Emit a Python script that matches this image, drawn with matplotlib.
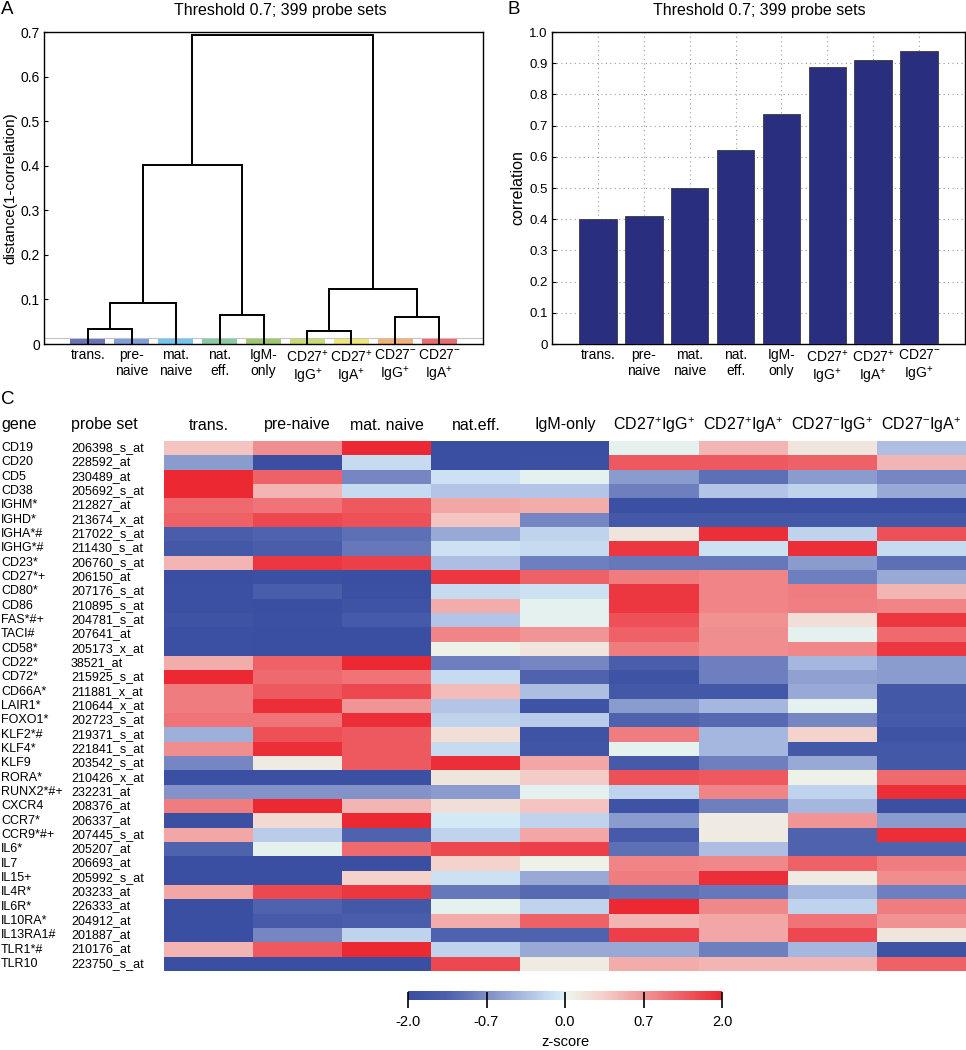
import numpy as np
import matplotlib
matplotlib.use('Agg')
import matplotlib.pyplot as plt
from matplotlib.colors import LinearSegmentedColormap, FuncNorm
from matplotlib.patches import Rectangle
from matplotlib.transforms import blended_transform_factory

plt.rcParams['font.family'] = ['Liberation Sans', 'DejaVu Sans']
plt.rcParams['mathtext.fontset'] = 'custom'
plt.rcParams['mathtext.rm'] = 'Liberation Sans'
plt.rcParams['mathtext.it'] = 'Liberation Sans:italic'
plt.rcParams['mathtext.bf'] = 'Liberation Sans:bold'

# ---------------- data ----------------
title_text = "Threshold 0.7; 399 probe sets"
dendro_labels = ["trans.", "pre-\nnaive", "mat.\nnaive", "nat.\neff.", "IgM-\nonly",
                 "CD27$^{+}$\nIgG$^{+}$", "CD27$^{+}$\nIgA$^{+}$",
                 "CD27$^{-}$\nIgG$^{+}$", "CD27$^{-}$\nIgA$^{+}$"]
leaf_colors = ["#6b72b8", "#7f9fd6", "#6fc6ef", "#86cba4", "#9dc96a",
               "#c8dc74", "#efe679", "#f4b173", "#ee6b6d"]
# merges: (node_a, node_b, height); leaves 0..8, new nodes numbered from 9
merges = [(0, 1, 0.034), (9, 2, 0.093), (3, 4, 0.065), (10, 11, 0.402),
          (5, 6, 0.030), (7, 8, 0.061), (13, 14, 0.123), (12, 15, 0.694)]
dendro_yticks = [0, 0.1, 0.2, 0.3, 0.4, 0.5, 0.6, 0.7]
dendro_yticklabels = ["0", "0.1", "0.2", "0.3", "0.4", "0.5", "0.6", "0.7"]

bar_labels = dendro_labels[:8]
correlations = [0.401, 0.410, 0.499, 0.623, 0.736, 0.888, 0.911, 0.938]
bar_yticks = [0, 0.1, 0.2, 0.3, 0.4, 0.5, 0.6, 0.7, 0.8, 0.9, 1.0]
bar_yticklabels = ["0", "0.1", "0.2", "0.3", "0.4", "0.5", "0.6", "0.7", "0.8", "0.9", "1.0"]

heat_columns = ["trans.", "pre-naive", "mat. naive", "nat.eff.", "IgM-only",
                "CD27$^{+}$IgG$^{+}$", "CD27$^{+}$IgA$^{+}$",
                "CD27$^{-}$IgG$^{+}$", "CD27$^{-}$IgA$^{+}$"]
genes = ["CD19", "CD20", "CD5", "CD38", "IGHM*", "IGHD*", "IGHA*#", "IGHG*#", "CD23*",
         "CD27*+", "CD80*", "CD86", "FAS*#+", "TACI#", "CD58*", "CD22*", "CD72*", "CD66A*",
         "LAIR1*", "FOXO1*", "KLF2*#", "KLF4*", "KLF9", "RORA*", "RUNX2*#+", "CXCR4",
         "CCR7*", "CCR9*#+", "IL6*", "IL7", "IL15+", "IL4R*", "IL6R*", "IL10RA*",
         "IL13RA1#", "TLR1*#", "TLR10"]
probe_sets = ["206398_s_at", "228592_at", "230489_at", "205692_s_at", "212827_at",
              "213674_x_at", "217022_s_at", "211430_s_at", "206760_s_at", "206150_at",
              "207176_s_at", "210895_s_at", "204781_s_at", "207641_at", "205173_x_at",
              "38521_at", "215925_s_at", "211881_x_at", "210644_x_at", "202723_s_at",
              "219371_s_at", "221841_s_at", "203542_s_at", "210426_x_at", "232231_at",
              "208376_at", "206337_at", "207445_s_at", "205207_at", "206693_at",
              "205992_s_at", "203233_at", "226333_at", "204912_at", "201887_at",
              "210176_at", "223750_s_at"]
zscores = [
    [0.4, 0.8, 2.0, -2.0, -2.0, 0.0, 0.5, 0.15, -0.35],
    [-0.6, -2.0, -0.15, -2.0, -1.9, 1.4, 1.4, 1.3, 0.5],
    [2.0, 1.3, -0.8, -0.1, 0.0, -0.6, -1.1, -0.6, -0.8],
    [2.0, 0.5, -0.15, -0.3, -0.3, -0.9, -0.3, -0.2, -0.5],
    [1.2, 1.1, 1.4, 0.6, 0.55, -1.9, -1.9, -1.9, -1.9],
    [1.3, 1.6, 1.5, 0.4, -0.8, -1.6, -1.6, -1.6, -1.6],
    [-1.4, -1.3, -1.1, -0.5, -0.2, 0.15, 1.9, -0.2, 1.5],
    [-1.6, -1.4, -1.0, -0.1, -0.15, 1.8, -0.1, 1.9, -0.15],
    [0.5, 1.8, 1.7, -0.35, -0.9, -1.0, -1.0, -0.6, -1.1],
    [-2.0, -1.9, -2.0, 1.8, 1.3, 1.0, 0.9, -0.9, -0.5],
    [-1.9, -1.4, -1.9, -0.15, -0.1, 1.8, 0.9, 1.0, 0.5],
    [-1.9, -2.0, -1.8, 0.55, 0.0, 1.8, 0.9, 0.95, 0.9],
    [-1.8, -1.9, -1.5, -0.3, 0.0, 1.5, 0.75, 0.2, 1.8],
    [-1.9, -2.0, -2.0, 0.9, 0.7, 1.3, 0.8, 0.0, 1.2],
    [-1.9, -2.0, -1.95, 0.05, 0.15, 1.0, 0.8, 0.85, 1.8],
    [0.55, 1.3, 2.0, -0.9, -0.8, -1.4, -0.9, -0.4, -0.6],
    [2.0, 1.2, 1.1, -0.15, -1.3, -1.8, -0.9, -0.55, -0.6],
    [1.0, 1.4, 1.6, 0.45, -0.35, -1.6, -1.6, -0.5, -1.6],
    [1.0, 1.9, 0.7, -0.3, -1.8, -0.6, -0.4, 0.0, -1.6],
    [1.1, 1.1, 1.9, -0.2, -0.25, -1.3, -1.2, -0.8, -1.5],
    [-0.45, 1.5, 1.4, 0.2, -1.8, 1.0, -0.4, 0.3, -1.8],
    [0.8, 1.9, 1.4, -0.15, -1.7, 0.0, -0.4, -1.6, -1.6],
    [-0.8, 0.1, 1.4, 1.9, 0.6, -1.5, -0.9, -0.5, -1.6],
    [-1.9, -1.9, -1.9, 0.15, 0.35, 1.5, 1.4, 0.05, 1.2],
    [-0.65, -0.65, -0.65, -0.6, 0.0, -0.2, 0.9, -0.2, 1.9],
    [1.0, 2.0, 0.5, 0.2, 0.4, -1.8, -0.9, -0.4, -1.9],
    [-1.9, 0.25, 2.0, -0.05, -0.2, -0.6, 0.1, 0.7, -0.6],
    [0.6, -0.25, -1.3, -0.2, 0.6, -1.5, 0.1, -1.3, 1.9],
    [-1.3, 0.0, 1.2, 1.6, 1.7, -1.1, -0.35, -1.3, -1.3],
    [-2.0, -2.0, -1.95, 0.3, 0.05, 0.9, 0.85, 1.3, 1.0],
    [-1.95, -1.95, 0.3, -0.1, -0.5, 1.0, 1.9, 0.1, 0.8],
    [0.6, 1.6, 1.8, -1.0, -1.2, -1.1, -1.0, -0.4, -0.9],
    [-2.0, -1.3, -1.6, 0.0, -0.2, 2.0, 0.85, -0.2, 1.0],
    [-2.0, -1.5, -1.4, 0.55, 1.3, 0.5, 0.6, 1.1, 0.75],
    [-2.0, -0.8, -0.2, -1.3, -1.3, 1.7, 0.6, 1.6, 0.15],
    [0.5, 1.4, 2.0, -0.2, -0.5, -0.5, -0.9, -0.4, -1.8],
    [-2.0, -2.0, -2.0, 1.6, 0.1, 0.55, 0.5, 0.5, 1.3],
]
cbar_ticks = [-2.0, -0.7, 0.0, 0.7, 2.0]
cbar_ticklabels = ["-2.0", "-0.7", "0.0", "0.7", "2.0"]

# ---------------- figure ----------------
W, H = 966, 1050
fig = plt.figure(figsize=(W / 100, H / 100), dpi=100)


def rect(l, t, r, b):
    return [l / W, 1 - b / H, (r - l) / W, (b - t) / H]


# ----- Panel A: dendrogram -----
axA = fig.add_axes(rect(44, 32, 483, 344))
strip_h = 0.013
axA.add_patch(Rectangle((0, 0), 10, strip_h, facecolor='white', edgecolor='#c4c4c4',
                        lw=0.8, zorder=1))
for i, c in enumerate(leaf_colors):
    axA.add_patch(Rectangle((i + 1 - 0.4, 0.0008), 0.8, strip_h - 0.0016,
                            facecolor=c, edgecolor='none', zorder=2))
pos = {i: i + 1.0 for i in range(9)}
hgt = {i: 0.0 for i in range(9)}
for k, (a, b, h) in enumerate(merges):
    node = 9 + k
    xa, xb = pos[a], pos[b]
    axA.plot([xa, xa, xb, xb], [hgt[a], h, h, hgt[b]], color='black', lw=1.4,
             zorder=3, solid_joinstyle='miter')
    pos[node] = (xa + xb) / 2
    hgt[node] = h
axA.set_xlim(0, 10)
axA.set_ylim(0, 0.7)
axA.set_xticks(range(1, 10))
axA.set_xticklabels(dendro_labels, fontsize=10, linespacing=1.2)
axA.set_yticks(dendro_yticks)
axA.set_yticklabels(dendro_yticklabels, fontsize=10)
axA.tick_params(axis='x', length=0, pad=3)
axA.tick_params(axis='y', direction='in', length=3, pad=3)
for s in axA.spines.values():
    s.set_linewidth(1.0)
axA.set_ylabel("distance(1-correlation)", fontsize=11)
axA.yaxis.set_label_coords((17 - 44) / 439, 0.5)

# ----- Panel B: bars -----
axB = fig.add_axes(rect(552, 32, 965, 344))
xb_pos = np.arange(1, 9)
axB.bar(xb_pos, correlations, width=0.82, color='#2a2e7f', edgecolor='#3a3a3a',
        lw=0.6, zorder=3)
axB.set_xlim(0, 9)
axB.set_ylim(0, 1.0)
axB.set_xticks(xb_pos)
axB.set_xticklabels(bar_labels, fontsize=10, linespacing=1.2)
axB.set_yticks(bar_yticks)
axB.set_yticklabels(bar_yticklabels, fontsize=9.5)
axB.tick_params(axis='x', length=0, pad=3)
axB.tick_params(axis='y', direction='in', length=3, pad=3)
axB.grid(True, linestyle=(0, (1, 3)), color='#9a9a9a', lw=0.8, zorder=0)
axB.set_axisbelow(True)
for s in axB.spines.values():
    s.set_linewidth(1.0)
axB.set_ylabel("correlation", fontsize=11.5)
axB.yaxis.set_label_coords((525 - 552) / 413, 0.5)

# titles and panel letters
fig.text(280 / W, 1 - 10 / H, title_text, fontsize=11.5, ha='center', va='center')
fig.text(759 / W, 1 - 10 / H, title_text, fontsize=11.5, ha='center', va='center')
fig.text(1 / W, 1 - 9 / H, "A", fontsize=13.5, ha='left', va='center')
fig.text(508 / W, 1 - 9 / H, "B", fontsize=13.5, ha='left', va='center')
fig.text(1 / W, 1 - 400 / H, "C", fontsize=13.5, ha='left', va='center')

# ----- Panel C: heatmap -----
pos_nodes = [0.0, 0.12, 0.25, 0.40, 0.49, 0.51, 0.62, 0.75, 0.88, 1.0]
col_nodes = ["#3a4fa2", "#4a5eab", "#7d8dc6", "#b6c8e8", "#d6edf7", "#eef4ea",
             "#f5d0ca", "#f19697", "#ee5c62", "#ec2832"]
cmap = LinearSegmentedColormap.from_list("zs", list(zip(pos_nodes, col_nodes)))
val_nodes = np.array(cbar_ticks)
pos_ticks = np.array([0.0, 0.25, 0.5, 0.75, 1.0])


def fwd(v):
    return np.interp(v, val_nodes, pos_ticks)


def inv(p):
    return np.interp(p, pos_ticks, val_nodes)


norm = FuncNorm((fwd, inv), vmin=-2.0, vmax=2.0)

axH = fig.add_axes(rect(164, 441, 966, 971))
Z = np.array(zscores)
im = axH.imshow(Z, cmap=cmap, norm=norm, aspect='auto', interpolation='nearest')
axH.set_axis_off()

tr_rows = blended_transform_factory(fig.transFigure, axH.transData)
for i, (g, p) in enumerate(zip(genes, probe_sets)):
    fig.text(1 / W, i, g, transform=tr_rows, fontsize=9, ha='left', va='center')
    fig.text(71 / W, i, p, transform=tr_rows, fontsize=9, ha='left', va='center')

tr_cols = blended_transform_factory(axH.transData, fig.transFigure)
for j, c in enumerate(heat_columns):
    axH.text(j, 1 - 425 / H, c, transform=tr_cols, fontsize=11.5, ha='center',
             va='center')
fig.text(1 / W, 1 - 425 / H, "gene", fontsize=11.5, ha='left', va='center')
fig.text(71 / W, 1 - 425 / H, "probe set", fontsize=11.5, ha='left', va='center')

# colorbar
axC = fig.add_axes(rect(408, 991, 722, 999.5))
cb = fig.colorbar(im, cax=axC, orientation='horizontal', ticks=cbar_ticks)
cb.set_ticklabels(cbar_ticklabels)
cb.outline.set_visible(False)
axC.tick_params(axis='x', direction='inout', length=12, width=1.2, color='black',
                labelsize=10.5, pad=5)
fig.text(565 / W, 1 - 1042 / H, "z-score", fontsize=10.5, ha='center', va='center')

fig.savefig('out.png', dpi=100)
